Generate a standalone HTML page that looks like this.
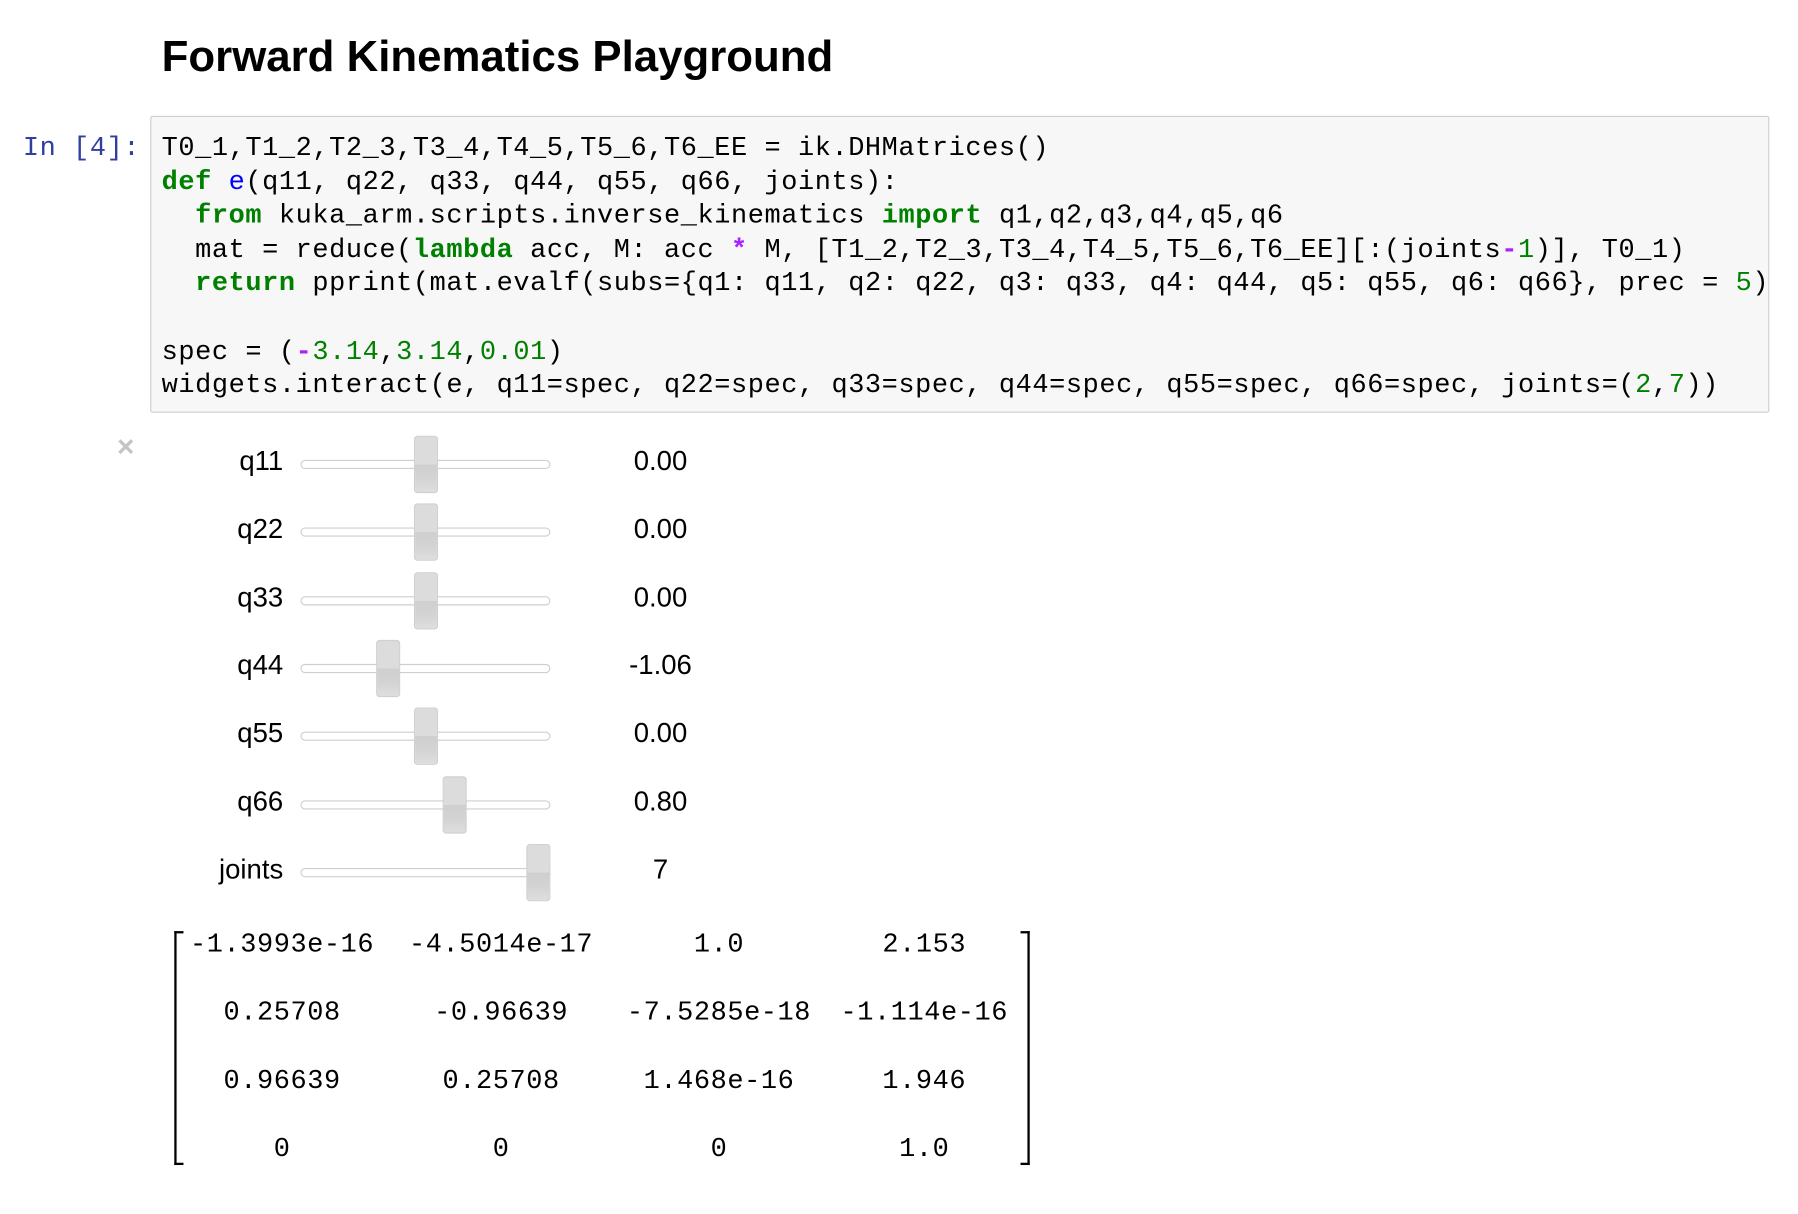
<!DOCTYPE html>
<html><head><meta charset="utf-8">
<style>
html,body{margin:0;padding:0;background:#fff;}
body{width:1798px;height:1214px;overflow:hidden;position:relative;}
#wrap{position:absolute;left:0;top:0;width:1568px;height:1059px;transform:scale(1.14668);transform-origin:0 0;}
.abs{position:absolute;}
.mono{font-family:"Liberation Mono",monospace;font-size:23.5px;letter-spacing:0.5px;white-space:pre;}
.k{color:#008000;font-weight:bold;}
.n{color:#008000;}
.o{color:#aa22ff;font-weight:bold;}
.f{color:#0000ff;}
.lbl{font-family:"Liberation Sans",sans-serif;font-size:24px;color:#000;}
.track{position:absolute;height:6px;border:1px solid #cfcfcf;border-radius:4px;background:#fff;}
.handle{position:absolute;width:19px;height:48px;border:1px solid #d0d0d0;border-radius:3px;background:linear-gradient(#dcdcdc 0%,#dcdcdc 50%,#cfcfcf 50%,#d3d3d3 75%,#dedede 100%);}
</style></head><body>
<div id="wrap">
<div class="abs" style="left:141px;top:28px;font-family:'Liberation Sans',sans-serif;font-weight:bold;font-size:38.2px;color:#000;">Forward Kinematics Playground</div>
<div class="abs mono" style="left:20px;top:115px;color:#303f9f;line-height:29.6px;">In [4]:</div>
<div class="abs" style="left:131px;top:101px;width:1410px;height:257px;background:#f7f7f7;border:1px solid #cfcfcf;border-radius:2px;overflow:hidden;">
<div class="abs mono" style="left:9px;top:13px;line-height:29.6px;color:#000;">T0_1,T1_2,T2_3,T3_4,T4_5,T5_6,T6_EE = ik.DHMatrices()
<span class="k">def</span> <span class="f">e</span>(q11, q22, q33, q44, q55, q66, joints):
  <span class="k">from</span> kuka_arm.scripts.inverse_kinematics <span class="k">import</span> q1,q2,q3,q4,q5,q6
  mat = reduce(<span class="k">lambda</span> acc, M: acc <span class="o">*</span> M, [T1_2,T2_3,T3_4,T4_5,T5_6,T6_EE][:(joints<span class="o">-</span><span class="n">1</span>)], T0_1)
  <span class="k">return</span> pprint(mat.evalf(subs={q1: q11, q2: q22, q3: q33, q4: q44, q5: q55, q6: q66}, prec = <span class="n">5</span>))

spec = (<span class="o">-</span><span class="n">3.14</span>,<span class="n">3.14</span>,<span class="n">0.01</span>)
widgets.interact(e, q11=spec, q22=spec, q33=spec, q44=spec, q55=spec, q66=spec, joints=(<span class="n">2</span>,<span class="n">7</span>))</div>
</div>
<div class="abs" style="left:102px;top:374px;font-family:'Liberation Sans',sans-serif;font-size:26px;font-weight:bold;color:#c4c4c4;">×</div>
<div id="sliders"></div>
<div id="matrix"></div>
</div>
<script>
const sliderNames = ['q11','q22','q33','q44','q55','q66','joints'];
const sliderValues = [0.00,0.00,0.00,-1.06,0.00,0.80,7];
const sliderMins = [-3.14,-3.14,-3.14,-3.14,-3.14,-3.14,2];
const sliderMaxs = [3.14,3.14,3.14,3.14,3.14,3.14,7];
const sliderLabels = ['0.00','0.00','0.00','-1.06','0.00','0.80','7'];
const matrixValues = [
 ['-1.3993e-16','-4.5014e-17','1.0','2.153'],
 ['0.25708','-0.96639','-7.5285e-18','-1.114e-16'],
 ['0.96639','0.25708','1.468e-16','1.946'],
 ['0','0','0','1.0']
];
const S = document.getElementById('sliders');
sliderNames.forEach((nm,i)=>{
  const cy = 402 + i*59.3;
  const lab = document.createElement('div');
  lab.className='abs lbl';
  
  
  lab.style.cssText='right:'+(1568-247)+'px;top:'+(cy-13)+'px;';
  lab.textContent=nm; S.appendChild(lab);
  const tr = document.createElement('div');
  tr.className='track';
  
  
  tr.style.left='262px'; tr.style.width='216px'; tr.style.top=(cy-1)+'px';
  S.appendChild(tr);
  const hx = 273.5 + (sliderValues[i]-sliderMins[i])/(sliderMaxs[i]-sliderMins[i])*195.5;
  const h = document.createElement('div');
  h.className='handle';
  
  
  h.style.left=(hx-10)+'px'; h.style.top=(cy-22)+'px';
  S.appendChild(h);
  const v = document.createElement('div');
  v.className='abs lbl';
  
  
  v.style.cssText='left:526px;width:100px;text-align:center;top:'+(cy-13)+'px;';
  v.textContent=sliderLabels[i]; S.appendChild(v);
});
const M = document.getElementById('matrix');
const colX = [246,437,627,806];
matrixValues.forEach((row,r)=>{
  const cy = 824 + r*59.3;
  row.forEach((val,c)=>{
    const d=document.createElement('div');
    d.className='abs mono';
    
    
    d.style.cssText='left:'+(colX[c]-100)+'px;width:200px;text-align:center;top:'+(cy-13)+'px;line-height:28px;';
    d.textContent=val; M.appendChild(d);
  });
});
[['left',152],['right',890]].forEach(([side,x])=>{
  const b=document.createElement('div');
  b.className='abs';
  
  
  const bs = side==='left' ? 'border-left:2px solid #000;' : 'border-right:2px solid #000;';
  b.style.cssText='left:'+x+'px;top:812px;width:6px;height:200px;'+bs+'border-top:2px solid #000;border-bottom:2px solid #000;';
  M.appendChild(b);
});
</script>
</body></html>
